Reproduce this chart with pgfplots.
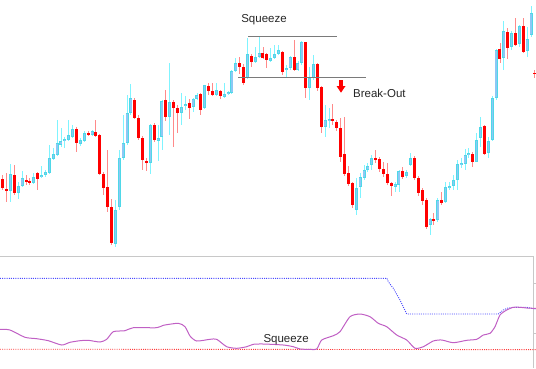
\documentclass[border=0pt]{standalone}
\usepackage{pgfplots}
\pgfplotsset{compat=1.18}
\usepackage{pgfplotstable}
\usepackage{fontspec}
\setmainfont{Liberation Sans}

\definecolor{upbody}{HTML}{8CC8F5}
\definecolor{upedge}{HTML}{4FD8E8}
\definecolor{upwick}{HTML}{7FF4FF}
\definecolor{dnbody}{HTML}{FF0000}
\definecolor{dnwick}{HTML}{FF8A8A}
\definecolor{boxgray}{HTML}{7A7A7A}
\definecolor{panelgray}{HTML}{C8C8C8}
\definecolor{bandblue}{HTML}{4A4AFF}
\definecolor{bandred}{HTML}{FF3C3C}
\definecolor{bwpurple}{HTML}{C060C4}
\definecolor{txt}{HTML}{262626}

% bearish candles: index, wick top, wick bottom, body top, body bottom (screen units, y downward)
\pgfplotstableread{
k wt wb bt bb
-1 154 185 163 182
0 175 190 179 188
1 173 202 189 190.5
3 165 195 175 193
6 175 185 180 182
7 178 185 181 182.5
9 172 190 173 179
19 127 152 129 143
22 131 136 133 134.5
24 120 137 132 136
25 134 175 135 174
26 172 195 174 188
27 150 212 187 207
28 199 245 207 243
34 98 119 100 118
35 115 140 118 138
36 136 170 138 160
37 158 171 161 163
39 123 142 125 140
42 90 121 100 117
44 100 147 102 108
45 105 133 108 113
48 99 119 103 108
51 93 115 94 110
53 83 95 86 91
54 83 96 91 95
56 90 99 91 96
61 57 74 63 67
62 64 85 67 83
64 54 67 56 62
67 47 59 53 58
68 53 68 54 60
72 51 75 52 72
75 40 71 57 70
78 42 98 42 88
81 63 91 64 88
82 86 133 87 127
85 104 125 119 121
86 120 131 122 128
87 118 162 128 157
88 117 176 154 174
89 166 186 173 184
90 182 208 183 205
96 150 163 158 160
97 157 172 159 169
98 162 177 169 174
99 163 185 174 183
100 182 196 183 186
103 167 179 171 177
106 156 180 158 178
107 176 196 178 193
108 188 205 190 201
109 198 229 200 227
111 213 225 219 221
113 192 205 200 203
121 152 167 154 162
124 125 155 126 154
128 43 63 49 59
130 28 59 32 48
132 18 46 33 45
134 18 53 26 52
137 70 78 73 74
}\bears

% bullish candles
\pgfplotstableread{
k wt wb bt bb
2 164 202 174 191
4 182 199 186 193
5 171 187 178 186
8 173 184 177 183
10 166 178 175 177
11 170 177 172 175
12 145 174 158 173
13 148 160 154 159
14 120 156 143 155
15 128 147 141 145
16 137 148 139 141
17 120 141 135 140
18 125 138 129 137
20 138 146 140 144
21 131 142 133 141
23 130 136 131 135
29 200 247 210 244
30 150 210 158 207
31 115 160 143 158
32 95 145 113 143
33 84 115 98 113
38 124 174 125 163
40 125 161 138 141
41 100 150 101 137
43 63 135 102 117
46 93 125 107 113
47 96 110 104 106
49 98 112 99 107
50 93 100 95 99
52 85 109 85 108
55 83 96 90 95
57 83 98 94 97
58 91 95 92 94
59 70 94 71 93
60 58 72 63 71
63 38 79 54 78
65 47 63 57 62
66 36 58 53 57
69 48 62 58 61
70 45 59 54 58
71 45 55 50 54
73 65 77 68 70
74 56 70 57 68
76 61 71 63 70
77 41 65 42 63
79 67 100 78 88
80 55 80 64 78
83 105 137 120 127
84 108 128 119 121
91 178 215 188 210
92 173 198 177 187
93 165 180 170 178
94 163 172 166 170
95 155 170 158 165
101 182 192 184 187
102 170 192 171 185
104 170 178 172 176
105 153 166 158 165
110 218 235 219 225
112 198 222 200 220
114 182 203 187 202
115 182 190 186 188
116 175 190 180 186
117 160 190 164 180
118 158 168 163 165
119 149 170 155 164
120 148 158 153 155
122 133 162 140 162
123 117 147 127 138
125 137 158 141 153
126 96 141 98 140
127 49 100 50 98
129 21 70 31 58
131 31 50 33 47
133 25 47 26 44
135 27 57 39 51
136 6 37 13 35
}\bulls

\begin{document}
\begin{tikzpicture}
\begin{axis}[
  scale only axis, width=536pt, height=368pt,
  xmin=0, xmax=536, ymin=0, ymax=368, y dir=reverse,
  axis line style={draw=none}, xtick=\empty, ytick=\empty,
  clip=true,
]
% wicks
\addplot[draw=none, mark=none, forget plot,
  error bars/.cd, y dir=plus, y explicit, error mark=none,
  error bar style={draw=upwick, line width=0.9pt}]
  table[x expr=2.7+3.885*\thisrow{k}, y=wt, y error plus expr=\thisrow{wb}-\thisrow{wt}] {\bulls};
\addplot[draw=none, mark=none, forget plot,
  error bars/.cd, y dir=plus, y explicit, error mark=none,
  error bar style={draw=dnwick, line width=0.9pt}]
  table[x expr=2.7+3.885*\thisrow{k}, y=wt, y error plus expr=\thisrow{wb}-\thisrow{wt}] {\bears};
% bodies
\addplot[draw=none, mark=none, forget plot,
  error bars/.cd, y dir=plus, y explicit, error mark=none,
  error bar style={draw=upedge, line width=3pt}]
  table[x expr=2.7+3.885*\thisrow{k}, y=bt, y error plus expr=\thisrow{bb}-\thisrow{bt}] {\bulls};
\addplot[draw=none, mark=none, forget plot,
  error bars/.cd, y dir=plus, y explicit, error mark=none,
  error bar style={draw=upbody, line width=1.4pt}]
  table[x expr=2.7+3.885*\thisrow{k}, y expr=\thisrow{bt}+0.8, y error plus expr={max(\thisrow{bb}-\thisrow{bt}-1.6,0)}] {\bulls};
\addplot[draw=none, mark=none, forget plot,
  error bars/.cd, y dir=plus, y explicit, error mark=none,
  error bar style={draw=dnbody, line width=3pt}]
  table[x expr=2.7+3.885*\thisrow{k}, y=bt, y error plus expr={max(\thisrow{bb}-\thisrow{bt},0.8)}] {\bears};

% squeeze box lines
\addplot[boxgray, line width=1.4pt] coordinates {(248,36.7) (337,36.7)};
\addplot[boxgray, line width=1.4pt] coordinates {(238,77.7) (366,77.7)};

% indicator panel frame
\addplot[panelgray, line width=0.9pt] coordinates {(0,256) (533,256) (533,368)};
\addplot[panelgray, line width=0.8pt] coordinates {(533,283.3) (536,283.3)};
\addplot[panelgray, line width=0.8pt] coordinates {(533,333.3) (536,333.3)};

% indicator lines
\addplot[bandred, line width=0.9pt, dash pattern=on 1pt off 1.2pt] coordinates {(0,349.2) (536,349.6)};
\addplot[bandblue, line width=0.9pt, dash pattern=on 1pt off 1.2pt] coordinates {
(0,278.3) (387,278.3) (388.3,281.7) (393.3,288.3) (400,300) (406.7,314) (498.3,314)
(503.3,310) (508,308) (513.3,307.3) (526.7,307.3) (533.3,308.7) (536,309)};
\addplot[bwpurple, line width=1pt, smooth, tension=0.4] coordinates {
(0,329.3) (10,330) (25,337.3) (36.7,338.7) (48.3,340.7) (61.7,345) (70,342.3) (80,340.7)
(88.3,340.3) (100,342) (106.7,339.3) (113.3,331.7) (125,330.7) (133.3,327.7) (156.7,327.7)
(163.3,325.3) (178.3,323.3) (185,326.7) (190,336) (196.7,341) (210,339.3) (216.7,339.3)
(226.7,346.7) (236.7,348.3) (246.7,346.7) (253.3,344.3) (263.3,344) (283.3,345) (293.3,346.7)
(300,349) (308.3,349.3) (316.7,349) (321.7,340) (333.3,335.7) (340,331.7) (350,316.7)
(360,314) (370,316.7) (378.3,323.3) (386.7,326.7) (396.7,335) (406.7,340) (415,348.3)
(423.3,346.7) (433.3,341) (441.7,340) (453.3,342.7) (466.7,340.3) (476.7,339.3) (483.3,335)
(490,333.3) (495,326.7) (500,315) (506.7,310) (513.3,307.3) (520,307.3) (526.7,308)
(533.3,308.3) (536,308.5)};

% annotations
\fill[dnbody] (axis cs:339.2,80) -- (axis cs:342.8,80) -- (axis cs:342.8,86) -- (axis cs:345.5,86)
  -- (axis cs:341,92.7) -- (axis cs:336.5,86) -- (axis cs:339.2,86) -- cycle;
\node[anchor=base, inner sep=0pt, text=txt, font=\fontsize{11.5}{13}\selectfont] at (axis cs:264,22.7) {Squeeze};
\node[anchor=base west, inner sep=0pt, text=txt, font=\fontsize{11.5}{13}\selectfont] at (axis cs:353,97.7) {Break-Out};
\node[anchor=base west, inner sep=0pt, text=txt, font=\fontsize{11.5}{13}\selectfont] at (axis cs:263.3,342.7) {Squeeze};
\end{axis}
\end{tikzpicture}
\end{document}
